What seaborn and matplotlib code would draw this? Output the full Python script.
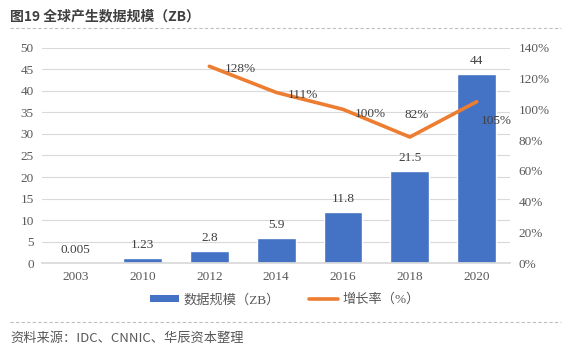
import matplotlib
matplotlib.use("Agg")
import matplotlib.pyplot as plt
import seaborn as sns
import pandas as pd
from matplotlib.lines import Line2D
from matplotlib.patches import Patch

years = ["2003", "2010", "2012", "2014", "2016", "2018", "2020"]
volume = [0.005, 1.23, 2.8, 5.9, 11.8, 21.5, 44]
volume_labels = ["0.005", "1.23", "2.8", "5.9", "11.8", "21.5", "44"]
growth_years = ["2012", "2014", "2016", "2018", "2020"]
growth = [128, 111, 100, 82, 105]

sns.set_theme(style="white")
plt.rcParams["font.family"] = ["Liberation Serif", "Noto Sans CJK SC", "DejaVu Sans"]

BLUE = "#4472C4"
ORANGE = "#ED7D31"
TXT = "#595959"

fig = plt.figure(figsize=(5.7, 3.57), dpi=100)
ax = fig.add_axes([0.074, 0.263, 0.821, 0.603])

df = pd.DataFrame({"year": years, "volume": volume})
sns.barplot(data=df, x="year", y="volume", order=years, color=BLUE, width=0.58,
            saturation=1, ax=ax, zorder=2)
ax.set_ylim(0, 50)
ax.set_yticks(range(0, 51, 5))
ax.grid(axis="y", color="#D9D9D9", linewidth=0.8, zorder=0)
ax.set_axisbelow(True)
for s in ["top", "right", "left"]:
    ax.spines[s].set_visible(False)
ax.spines["bottom"].set_color("#D9D9D9")
ax.set_xlabel("")
ax.set_ylabel("")
ax.tick_params(axis="both", colors=TXT, labelsize=9.5, length=0, pad=6)

for i, (v, lab) in enumerate(zip(volume, volume_labels)):
    ax.annotate(lab, (i, v), xytext=(0, 5), textcoords="offset points",
                ha="center", va="bottom", fontsize=9.5, color="#404040")

ax2 = ax.twinx()
gdf = pd.DataFrame({"year": growth_years, "growth": growth})
sns.pointplot(data=gdf, x="year", y="growth", order=years, color=ORANGE,
              markers="", linewidth=2.6, ax=ax2, zorder=3)
ax2.set_ylim(0, 140)
ax2.set_yticks(range(0, 141, 20))
ax2.set_yticklabels([f"{t}%" for t in range(0, 141, 20)])
for s in ["top", "right", "left", "bottom"]:
    ax2.spines[s].set_visible(False)
ax2.set_xlabel("")
ax2.set_ylabel("")
ax2.tick_params(axis="both", colors=TXT, labelsize=9.5, length=0, pad=6)

offsets = [(22, -2), (19, -2), (20, -3), (5, 16), (14, -14)]
for yr, g, off in zip(growth_years, growth, offsets):
    i = years.index(yr)
    ax2.annotate(f"{g}%", (i, g), xytext=off, textcoords="offset points",
                 ha="center", va="center", fontsize=9.5, color="#404040")

handles = [Patch(facecolor=BLUE, edgecolor="none"),
           Line2D([0], [0], color=ORANGE, linewidth=2.6)]
fig.legend(handles, ["数据规模（ZB）", "增长率（%）"], loc="center",
           bbox_to_anchor=(0.5, 0.16), ncol=2, frameon=False,
           labelcolor=TXT, handlelength=2.2, handleheight=0.45, handletextpad=0.35,
           columnspacing=2.2,
           prop={"family": ["Liberation Serif", "Noto Sans CJK SC"], "size": 9.5})

fig.text(0.018, 0.955, "图19 全球产生数据规模（ZB）", fontsize=10, fontweight="bold",
         color="#404040", ha="left", va="center",
         family=["Noto Sans CJK SC", "DejaVu Sans"])
fig.lines.append(Line2D([0.018, 0.985], [0.922, 0.922], transform=fig.transFigure,
                        color="#BFBFBF", linestyle=(0, (3, 2)), linewidth=0.8))
fig.lines.append(Line2D([0.018, 0.985], [0.098, 0.098], transform=fig.transFigure,
                        color="#BFBFBF", linestyle=(0, (3, 2)), linewidth=0.8))
fig.text(0.018, 0.052, "资料来源：IDC、CNNIC、华辰资本整理", fontsize=9.5, style="italic",
         color="#595959", ha="left", va="center",
         family=["Noto Sans CJK SC", "DejaVu Sans"])

fig.savefig("out.png", dpi=100, facecolor="white")
